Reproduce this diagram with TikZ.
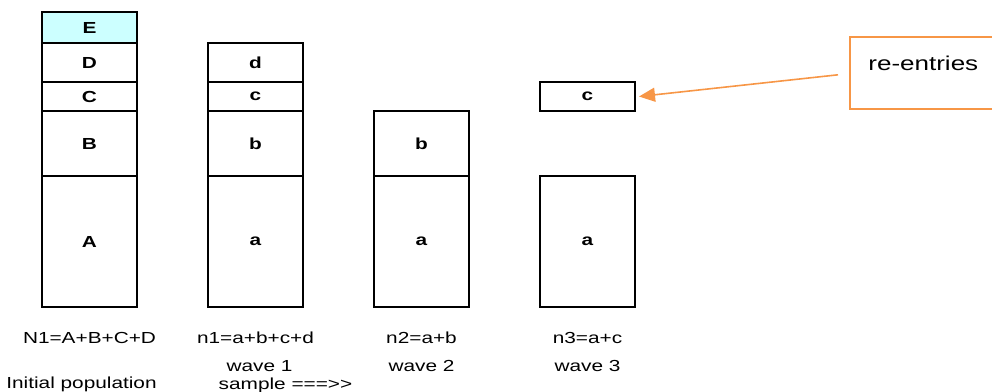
\documentclass[tikz,border=0pt]{standalone}
\usepackage{fontspec}
\setmainfont{Liberation Sans}[FakeStretch=1.3]
\usepackage{tikz}
\usetikzlibrary{arrows.meta, positioning, calc}

\definecolor{paleCyan}{RGB}{204,255,255}
\definecolor{calloutOrange}{HTML}{F79646}

\begin{document}
\fontsize{16}{19}\selectfont
\begin{tikzpicture}[
  x=1pt, y=-1pt,
  block/.style = {
    draw,
    line width=1.7pt,
    minimum width=95pt,
    inner sep=0pt,
    outer sep=0pt,
    font=\bfseries
  },
  sumtext/.style = {
    inner sep=0pt,
    text height=12pt,
    text depth=4pt
  },
  callbox/.style = {
    draw=calloutOrange,
    line width=1.6pt,
    minimum width=147pt,
    inner ysep=0pt,
    text height=34pt,
    text depth=38pt,
    font=\fontsize{20}{24}\selectfont
  },
  callarrow/.style = {
    draw=calloutOrange,
    line width=1.6pt,
    -{Triangle[length=16pt, width=14pt]}
  }
]

\useasboundingbox (0,0) rectangle (992,391);

% ======================================================
% INITIAL POPULATION
% ======================================================

\node[block, minimum height=131pt] (popA) at (89.5,241.5) {A};
\node[block, minimum height=65pt, above=0pt of popA] (popB) {B};
\node[block, minimum height=29pt, above=0pt of popB] (popC) {C};
\node[block, minimum height=39pt, above=0pt of popC] (popD) {D};
\node[block, fill=paleCyan, minimum height=31pt, above=0pt of popD] (popE) {E};

% ======================================================
% WAVES
% ======================================================

% wave 1
\node[block, minimum height=131pt, right=71pt of popA] (w1a) {a};
\node[block, minimum height=65pt, above=0pt of w1a] (w1b) {b};
\node[block, minimum height=29pt, above=0pt of w1b] (w1c) {c};
\node[block, minimum height=39pt, above=0pt of w1c] (w1d) {d};

% wave 2
\node[block, minimum height=131pt, right=71pt of w1a] (w2a) {a};
\node[block, minimum height=65pt, above=0pt of w2a] (w2b) {b};

% wave 3
\node[block, minimum height=131pt, right=71pt of w2a] (w3a) {a};
\node[block, minimum height=29pt, above=65pt of w3a] (w3c) {c};

% ======================================================
% SIZES AND NAMES
% ======================================================

\node[sumtext, below=24pt of popA] (popsum) {N1=A+B+C+D};
\node[sumtext, below=24pt of w1a] (w1sum) {n1=a+b+c+d};
\node[sumtext, below=24pt of w2a] (w2sum) {n2=a+b};
\node[sumtext, below=24pt of w3a] (w3sum) {n3=a+c};

\node[sumtext, below=12pt of w1sum, xshift=4pt] (w1name) {wave 1};
\node[sumtext, below=12pt of w2sum] (w2name) {wave 2};
\node[sumtext, below=12pt of w3sum] (w3name) {wave 3};

\node[sumtext, below=29pt of popsum, xshift=-8pt] (initpop) {Initial population};
\node[sumtext, below=1pt of w1name, xshift=26pt] (sample) {sample ===>\kern0pt>};

% ======================================================
% RE-ENTRIES CALLOUT
% ======================================================

\node[callbox, anchor=north west] (reentry) at ($(w3c.north east)+(214,-46)$) {re-entries};

\draw[callarrow]
  ([xshift=-11pt, yshift=-2pt]reentry.west) -- ([xshift=4pt]w3c.east);

\end{tikzpicture}
\end{document}
